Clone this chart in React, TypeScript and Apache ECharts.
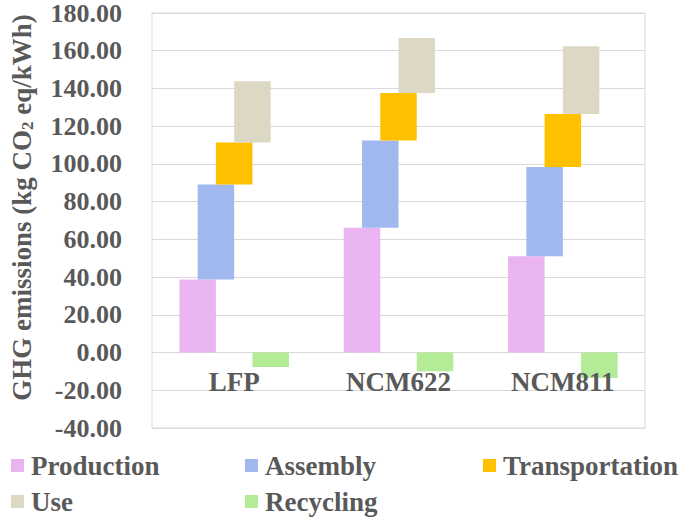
import React, { useEffect, useRef } from "react";
import * as echarts from "echarts";

const categories = ["LFP", "NCM622", "NCM811"];
const production = [38.7, 66.1, 51.1];
const assembly = [50.4, 46.3, 47.3];
const transportation = [22.2, 25.2, 28.1];
const use = [32.5, 29.2, 35.9];
const recycling = [-7.6, -9.9, -13.5];
const yTicks = { min: -40, max: 180, interval: 20 };

const names = ["Production", "Assembly", "Transportation", "Use", "Recycling"];
const colors = ["#EAB4F1", "#A0B8EE", "#FFC000", "#DDD8C3", "#B4EB97"];
const textColor = "#595959";
const font = "'Liberation Serif', 'Times New Roman', serif";

export default function App() {
  const ref = useRef<HTMLDivElement>(null);
  useEffect(() => {
    document.body.style.margin = "0";
    if (!ref.current) return;
    const chart = echarts.init(ref.current, undefined, { renderer: "svg" });
    const positives = [production, assembly, transportation, use];
    const series: any[] = [];
    const cum = categories.map(() => 0);
    positives.forEach((vals, i) => {
      series.push({
        name: "base" + i,
        type: "bar",
        stack: "s" + i,
        barWidth: 36.5,
        barGap: "-50%",
        itemStyle: { color: "transparent" },
        silent: true,
        data: cum.slice(),
      });
      series.push({
        name: names[i],
        type: "bar",
        stack: "s" + i,
        barWidth: 36.5,
        barGap: "-50%",
        itemStyle: { color: colors[i] },
        data: vals.slice(),
      });
      vals.forEach((v, j) => (cum[j] += v));
    });
    series.push({
      name: names[4],
      type: "bar",
      stack: "s4",
      barWidth: 36.5,
      barGap: "-50%",
      itemStyle: { color: colors[4] },
      data: recycling.slice(),
    });

    const legendPos = [
      { left: 11, top: 452 },
      { left: 245, top: 452 },
      { left: 483, top: 452 },
      { left: 11, top: 488 },
      { left: 245, top: 488 },
    ];
    const legends = names.map((n, i) => ({
      data: [n],
      left: legendPos[i].left,
      top: legendPos[i].top,
      padding: 0,
      icon: "rect",
      itemWidth: 13,
      itemHeight: 13,
      selectedMode: false,
      textStyle: {
        color: textColor,
        fontFamily: font,
        fontWeight: "bold",
        fontSize: 27,
        padding: [0, 0, 0, 2],
      },
    }));

    chart.setOption({
      animation: false,
      color: colors,
      legend: legends,
      grid: {
        left: 149,
        right: 40,
        top: 13,
        bottom: 92,
        show: true,
        borderColor: "#D9D9D9",
        borderWidth: 1,
      },
      xAxis: {
        type: "category",
        data: categories,
        z: 10,
        axisLine: { show: false },
        axisTick: { show: false },
        axisLabel: {
          color: textColor,
          fontFamily: font,
          fontWeight: "bold",
          fontSize: 27,
          margin: -60,
        },
      },
      yAxis: {
        type: "value",
        min: yTicks.min,
        max: yTicks.max,
        interval: yTicks.interval,
        axisLine: { show: false },
        axisTick: { show: false },
        splitLine: { lineStyle: { color: "#D9D9D9", width: 1 } },
        axisLabel: {
          color: textColor,
          fontFamily: font,
          fontWeight: "bold",
          fontSize: 26,
          margin: 30,
          formatter: (v: number) => v.toFixed(2),
        },
        name: "GHG emissions (kg CO{sub|2} eq/kWh)",
        nameLocation: "middle",
        nameRotate: 90,
        nameGap: 116,
        nameTextStyle: {
          color: textColor,
          fontFamily: font,
          fontWeight: "bold",
          fontSize: 27,
          padding: [0, 0, 0, 26],
          rich: {
            sub: {
              color: textColor,
              fontFamily: font,
              fontWeight: "bold",
              fontSize: 17,
              padding: [12, 0, 0, 0],
              verticalAlign: "bottom",
            },
          },
        },
      },
      series,
    });
    return () => chart.dispose();
  }, []);
  return <div ref={ref} style={{ width: 685, height: 520 }} />;
}
